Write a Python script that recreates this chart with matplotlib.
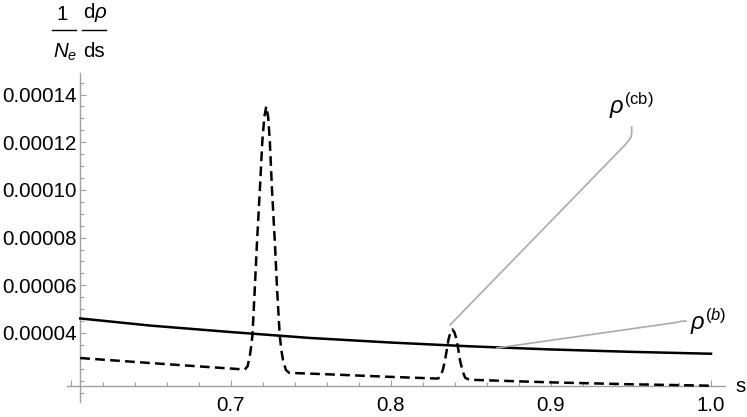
import numpy as np
import matplotlib
matplotlib.use("Agg")
import matplotlib.pyplot as plt
from matplotlib.lines import Line2D

plt.rcParams['font.family'] = ['Liberation Sans', 'DejaVu Sans']
plt.rcParams['mathtext.fontset'] = 'custom'
plt.rcParams['mathtext.rm'] = 'Liberation Sans'
plt.rcParams['mathtext.it'] = 'Liberation Sans:italic'
plt.rcParams['mathtext.bf'] = 'Liberation Sans:bold'
plt.rcParams['lines.scale_dashes'] = False

# --- data ---
# rho^(b): smooth solid curve
s_b = [0.606, 0.65, 0.70, 0.75, 0.80, 0.85, 0.90, 0.95, 1.00]
rho_b = [4.61e-5, 4.31e-5, 4.04e-5, 3.79e-5, 3.60e-5, 3.44e-5, 3.31e-5, 3.21e-5, 3.13e-5]

# rho^(cb): dashed curve with two resonance peaks (values in units of 1e-5)
s_cb = [0.606, 0.65, 0.68, 0.70, 0.7088, 0.7105, 0.7119, 0.7128, 0.7136, 0.7150,
        0.7165, 0.7182, 0.7198, 0.7210, 0.7222, 0.7234, 0.7244, 0.7258, 0.7275,
        0.7290, 0.7306, 0.7316, 0.7327, 0.7345, 0.7365, 0.76, 0.80, 0.8290,
        0.8307, 0.8325, 0.8339, 0.8350, 0.8360, 0.8372, 0.8385, 0.8398, 0.8411,
        0.8422, 0.8432, 0.8448, 0.8465, 0.8490, 0.90, 0.95, 1.00]
rho_cb_e5 = [2.95, 2.74, 2.60, 2.51, 2.47, 2.60, 3.01, 3.45, 3.92, 5.80,
             7.90, 10.00, 12.09, 13.05, 13.50, 13.05, 12.09, 10.00, 7.90,
             5.80, 3.92, 3.30, 2.85, 2.45, 2.33, 2.27, 2.16, 2.09,
             2.13, 2.45, 2.87, 3.30, 3.71, 4.02, 4.15, 4.02, 3.71,
             3.30, 2.87, 2.40, 2.12, 2.04, 1.93, 1.85, 1.79]
rho_cb = np.array(rho_cb_e5) * 1e-5

x_major = [0.6, 0.7, 0.8, 0.9, 1.0]
x_labels = ['', '0.7', '0.8', '0.9', '1.0']
y_major = [4e-5, 6e-5, 8e-5, 10e-5, 12e-5, 14e-5]
y_labels = ['0.00004', '0.00006', '0.00008', '0.00010', '0.00012', '0.00014']

# --- pixel layout (747x417 canvas) ---
W, H = 747, 417
PX0, KX = 70.6, 1601.0          # px of s=0.6, px per unit s
PY0, KY = 333.0, 47.7 / 2e-5    # px (from top) of 4e-5, px per unit

def x_of(px): return 0.6 + (px - PX0) / KX
def y_of(py): return 4e-5 + (PY0 - py) / KY
def fx(px): return px / W
def fy(py): return 1 - py / H

axis_gray = '#a0a0a0'
lead_gray = '#ababab'
FS = 14.8

fig = plt.figure(figsize=(W / 100, H / 100), dpi=100)
ax = fig.add_axes([0, 0, 1, 1])
ax.set_xlim(x_of(0), x_of(W))
ax.set_ylim(y_of(H), y_of(0))

for sp in ['top', 'right']:
    ax.spines[sp].set_visible(False)
ax.spines['left'].set_position(('data', x_of(80)))
ax.spines['left'].set_bounds(y_of(402), y_of(73))
ax.spines['bottom'].set_position(('data', y_of(386)))
ax.spines['bottom'].set_bounds(x_of(66.5), x_of(725))
for sp in ['left', 'bottom']:
    ax.spines[sp].set_color(axis_gray)
    ax.spines[sp].set_linewidth(1.0)

ax.set_xticks(x_major)
ax.set_xticklabels(x_labels)
ax.set_xticks([v for v in np.round(np.arange(0.62, 1.0, 0.02), 2) if v not in x_major], minor=True)
ax.set_yticks(y_major)
ax.set_yticklabels(y_labels)
ax.set_yticks([v for v in np.arange(1.5e-5, 1.46e-4, 0.5e-5) if min(abs(v - m) for m in y_major) > 1e-7], minor=True)
ax.tick_params(which='both', direction='in', color=axis_gray, width=0.8)
ax.tick_params(which='major', length=4.5)
ax.tick_params(which='minor', length=2.8)
ax.tick_params(axis='x', pad=7.0, labelsize=FS)
ax.tick_params(axis='y', pad=2.5, labelsize=FS)

ax.plot(s_b, rho_b, color='black', lw=1.8, zorder=3)
ax.plot(s_cb, rho_cb, color='black', lw=1.8, dashes=(7.0, 3.8), zorder=3)

# leader lines to the curve labels
cb_lead = [(450, 325), (624, 146), (628, 141.5), (631, 137), (631.7, 133), (631.7, 127)]
b_lead = [(497, 348), (676, 322.5), (681, 321.3), (686, 321)]
for pts in (cb_lead, b_lead):
    fig.add_artist(Line2D([fx(p[0]) for p in pts], [fy(p[1]) for p in pts],
                          color=lead_gray, lw=1.2, zorder=2))
fig.text(fx(609), fy(114), r'$\rho^{\mathrm{(cb)}}$', fontsize=17, ha='left', va='baseline')
fig.text(fx(690), fy(330), r'$\rho^{(b)}$', fontsize=17, ha='left', va='baseline')

# axis labels
fig.text(fx(741), fy(391.5), 's', fontsize=FS, ha='center', va='baseline')
fig.text(fx(62), fy(20), '1', fontsize=FS, ha='center', va='baseline')
fig.text(fx(65), fy(57.5), r'$N_e$', fontsize=FS, ha='center', va='baseline')
fig.text(fx(95), fy(18.5), r'd$\rho$', fontsize=FS, ha='center', va='baseline')
fig.text(fx(94), fy(57), 'ds', fontsize=FS, ha='center', va='baseline')
for x0, x1 in ((52, 76), (82, 106)):
    fig.add_artist(Line2D([fx(x0), fx(x1)], [fy(30), fy(30)], color='black', lw=1.0))

fig.savefig('out.png', dpi=100)
